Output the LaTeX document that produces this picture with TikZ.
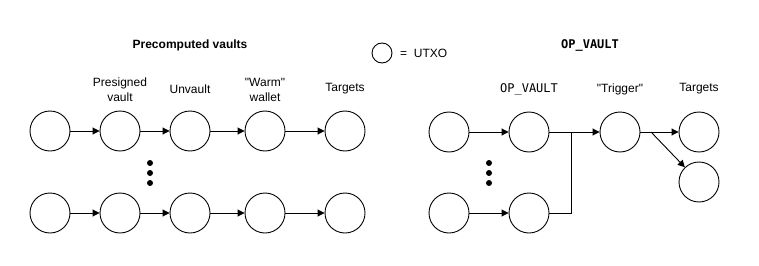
\documentclass[tikz,border=0pt]{standalone}
\usepackage{fontspec}
\setmainfont{Liberation Sans}
\setmonofont{DejaVu Sans Mono}
\usetikzlibrary{arrows.meta}
\newcommand{\sq}{\XeTeXglyph\XeTeXcharglyph"22\relax}
\begin{document}
\begin{tikzpicture}[x=1pt,y=-1pt,
  utxo/.style={draw,circle,minimum size=40pt,inner sep=0pt,line width=0.9pt},
  lbl/.style={align=center,font=\fontsize{12}{15}\selectfont,inner sep=0pt},
  conn/.style={line width=0.9pt,-{Triangle[length=7pt,width=7pt]}},
  plain/.style={line width=0.9pt},
  dotn/.style={circle,fill,inner sep=0pt,minimum size=6pt}]
\useasboundingbox (0,0) rectangle (759,265);
% legend and titles
\node[lbl,font=\fontsize{12}{15}\selectfont\bfseries] (t1) at (190,45) {Precomputed vaults};
\node[lbl,font=\fontsize{12}{15}\selectfont\ttfamily\bfseries] (t2) at (590,45) {OP\_VAULT};
\node[utxo,minimum size=20pt] (leg) at (382,53) {};
\node[lbl,anchor=west] (legt) at (400,53) {=\ \ UTXO};
% left top row
\node[utxo] (a1) at (50,131) {};
\node[utxo] (a2) at (120,131) {};
\node[utxo] (a3) at (190,131) {};
\node[utxo] (a4) at (265,131) {};
\node[utxo] (a5) at (345,131) {};
% left bottom row
\node[utxo] (b1) at (50,213) {};
\node[utxo] (b2) at (120,213) {};
\node[utxo] (b3) at (190,213) {};
\node[utxo] (b4) at (265,213) {};
\node[utxo] (b5) at (345,213) {};
\foreach \i/\j in {1/2,2/3,3/4,4/5}{
  \draw[conn] (a\i) -- (a\j);
  \draw[conn] (b\i) -- (b\j);
}
\node[dotn] (d1) at (150,163) {};
\node[dotn] (d2) at (150,173) {};
\node[dotn] (d3) at (150,183) {};
% left labels
\node[lbl] (l1) at (120,89.5) {Presigned\\vault};
\node[lbl] (l2) at (190,89) {Unvault};
\node[lbl] (l3) at (265,89.5) {\sq Warm\sq\\wallet};
\node[lbl] (l4) at (345,89) {Targets};
% right
\node[utxo] (c1) at (449,132) {};
\node[utxo] (c2) at (529,132) {};
\node[utxo] (e1) at (449,213) {};
\node[utxo] (e2) at (529,213) {};
\node[utxo] (tr) at (620,132) {};
\node[utxo] (g1) at (699,132) {};
\node[utxo] (g2) at (699,182) {};
\node[dotn] (f1) at (489,163) {};
\node[dotn] (f2) at (489,173) {};
\node[dotn] (f3) at (489,183) {};
\draw[conn] (c1) -- (c2);
\draw[conn] (e1) -- (e2);
\draw[conn] (c2) -- (tr);
\coordinate (j) at (571,132);
\draw[plain] (e2.east) -| (j);
\draw[conn] (tr) -- (g1);
\coordinate (br) at (651,132);
\draw[conn] (br) -- (g2);
\node[lbl,font=\fontsize{12}{15}\selectfont\ttfamily] (r1) at (529,89) {OP\_VAULT};
\node[lbl] (r2) at (620,89) {\sq Trigger\sq};
\node[lbl] (r3) at (699,89) {Targets};
\end{tikzpicture}
\end{document}
